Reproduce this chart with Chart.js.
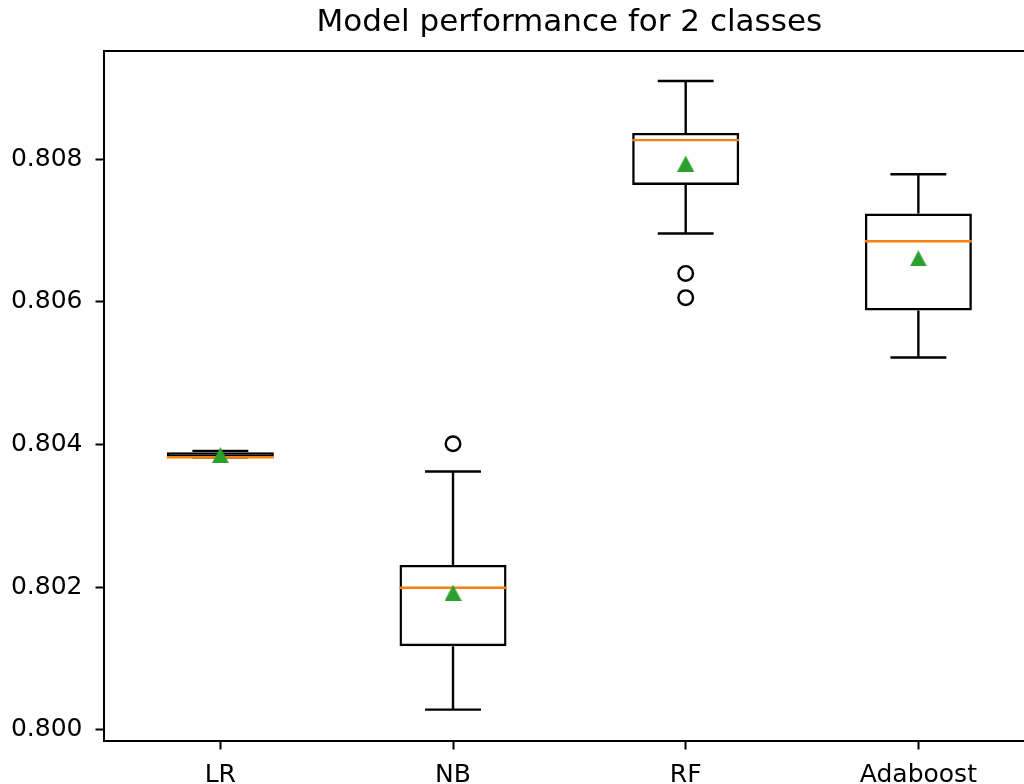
<!DOCTYPE html>
<html lang="en">
<head>
  <meta charset="UTF-8" />
  <title>Model performance for 2 classes</title>
  <script src="https://cdn.jsdelivr.net/npm/chart.js"></script>
  <style>
    html, body {
      margin: 0;
      background: #fff;
      overflow: hidden;
      width: 1024px;
      height: 784px;
    }

    /* the axes run a little past the right and bottom edge of the window */
    .wrap {
      position: absolute;
      left: 0;
      top: 0;
      width: 1050px;
      height: 820px;
    }
  </style>
</head>
<body>
  <div class="wrap">
    <canvas id="boxChart" width="1050" height="820"></canvas>
  </div>

  <script>
    // values
    const categories = ["LR", "NB", "RF", "Adaboost"];
    const q1 = [0.80382, 0.80117, 0.80764, 0.80588];
    const q3 = [0.80389, 0.80231, 0.80837, 0.80724];
    const medians = [0.80382, 0.80199, 0.80827, 0.80685];
    const means = [0.80385, 0.80192, 0.80794, 0.80661];
    const whiskerLow = [0.80382, 0.80028, 0.80696, 0.80522];
    const whiskerHigh = [0.80391, 0.80362, 0.80910, 0.80779];
    const outliers = [[], [0.80401], [0.80640, 0.80606], []];
    const yTicks = [0.800, 0.802, 0.804, 0.806, 0.808];

    const FONT = "'DejaVu Sans', sans-serif";
    const LW = 2.4;

    // matplotlib style "^" marker
    function triangleMarker(w, h, color) {
      const c = document.createElement("canvas");
      c.width = w;
      c.height = h;
      const g = c.getContext("2d");
      g.fillStyle = color;
      g.beginPath();
      g.moveTo(w / 2, 0);
      g.lineTo(w, h);
      g.lineTo(0, h);
      g.closePath();
      g.fill();
      return c;
    }

    // whiskers, caps, medians and the top spine
    const boxPlugin = {
      id: "boxWhiskers",
      afterDatasetDraw(chart, args) {
        if (args.index !== 0) return;
        const { ctx, chartArea, scales: { x, y } } = chart;
        const bars = chart.getDatasetMeta(0).data;

        const seg = (x1, y1, x2, y2) => {
          ctx.beginPath();
          ctx.moveTo(x1, y1);
          ctx.lineTo(x2, y2);
          ctx.stroke();
        };

        ctx.save();
        ctx.lineWidth = LW;
        categories.forEach((c, i) => {
          const cx = x.getPixelForValue(i);
          const half = bars[i].width / 2;
          const capHalf = half / 2;

          ctx.strokeStyle = "#000";
          ctx.lineCap = "butt";
          seg(cx, y.getPixelForValue(q3[i]), cx, y.getPixelForValue(whiskerHigh[i]));
          seg(cx, y.getPixelForValue(q1[i]), cx, y.getPixelForValue(whiskerLow[i]));
          ctx.lineCap = "square";
          seg(cx - capHalf, y.getPixelForValue(whiskerHigh[i]), cx + capHalf, y.getPixelForValue(whiskerHigh[i]));
          seg(cx - capHalf, y.getPixelForValue(whiskerLow[i]), cx + capHalf, y.getPixelForValue(whiskerLow[i]));

          ctx.strokeStyle = "#ff7f0e";
          ctx.lineCap = "butt";
          seg(cx - half, y.getPixelForValue(medians[i]), cx + half, y.getPixelForValue(medians[i]));
        });

        // top spine; the right one lies outside the window
        ctx.strokeStyle = "#000";
        ctx.lineWidth = 2;
        ctx.lineCap = "square";
        seg(chartArea.left, chartArea.top, chartArea.right, chartArea.top);
        ctx.restore();
      }
    };

    const outlierPoints = [];
    outliers.forEach((list, i) => {
      list.forEach(v => outlierPoints.push({ x: categories[i], y: v }));
    });

    new Chart(document.getElementById("boxChart"), {
      type: "bar",
      data: {
        labels: categories,
        datasets: [
          {
            label: "IQR",
            data: categories.map((c, i) => [q1[i], q3[i]]),
            backgroundColor: "rgba(255,255,255,0)",
            borderColor: "#000",
            borderWidth: LW,
            borderSkipped: false,
            barPercentage: 0.46,
            categoryPercentage: 1,
            order: 3
          },
          {
            type: "scatter",
            label: "Outliers",
            data: outlierPoints,
            pointStyle: "circle",
            pointRadius: 7.3,
            pointBorderWidth: LW,
            pointBorderColor: "#000",
            pointBackgroundColor: "rgba(255,255,255,0)",
            order: 2
          },
          {
            type: "scatter",
            label: "Mean",
            data: categories.map((c, i) => ({ x: c, y: means[i] })),
            pointStyle: triangleMarker(17, 16, "#2ca02c"),
            order: 1
          }
        ]
      },
      options: {
        responsive: false,
        animation: false,
        devicePixelRatio: 1,
        layout: {
          padding: { left: 0, top: 0, right: 15.3, bottom: 0 }
        },
        plugins: {
          legend: { display: false },
          tooltip: { enabled: false },
          title: {
            display: true,
            text: "Model performance for 2 classes",
            fullSize: false,
            color: "#000",
            font: { family: FONT, size: 31, weight: "normal", lineHeight: 1.2 },
            padding: { top: 3.9, bottom: 9.9 }
          }
        },
        scales: {
          x: {
            type: "category",
            offset: true,
            grid: {
              drawOnChartArea: false,
              drawTicks: true,
              tickLength: 8.5,
              tickWidth: 2,
              tickColor: "#000",
              offset: false
            },
            border: { display: true, color: "#000", width: 2 },
            ticks: {
              color: "#000",
              font: { family: FONT, size: 25 },
              padding: 10.8,
              maxRotation: 0,
              autoSkip: false
            },
            afterFit(scale) {
              scale.height = 79;
              scale.paddingLeft = 0;
              scale.paddingRight = 0;
            }
          },
          y: {
            type: "linear",
            min: 0.79984,
            max: 0.80952,
            afterBuildTicks(scale) {
              scale.ticks = yTicks.map(v => ({ value: v }));
            },
            grid: {
              drawOnChartArea: false,
              drawTicks: true,
              tickLength: 8.5,
              tickWidth: 2,
              tickColor: "#000"
            },
            border: { display: true, color: "#000", width: 2 },
            ticks: {
              color: "#000",
              font: { family: FONT, size: 25 },
              padding: 13,
              callback: v => v.toFixed(3)
            },
            afterFit(scale) {
              scale.width = 104;
            }
          }
        }
      },
      plugins: [boxPlugin]
    });
  </script>
</body>
</html>
